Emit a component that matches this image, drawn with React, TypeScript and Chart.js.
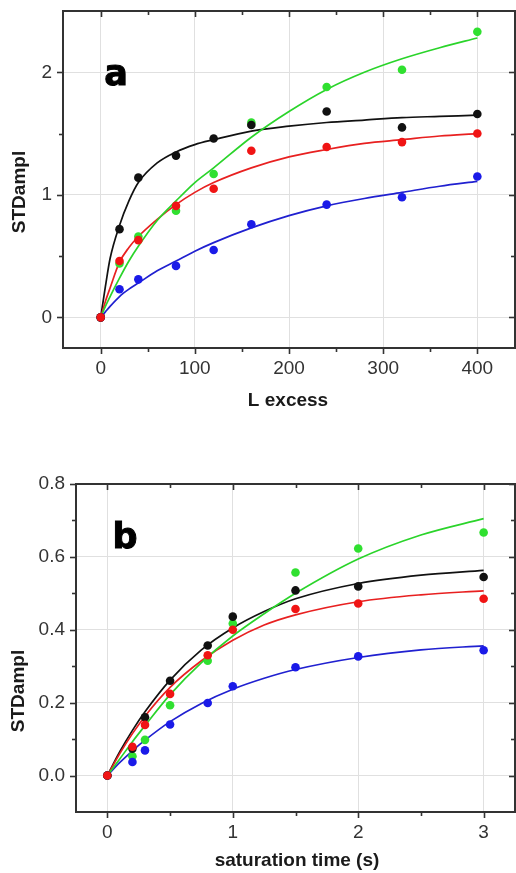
import React, { useEffect, useRef } from "react";
import { Chart, registerables } from "chart.js";
Chart.register(...registerables);

// ---------- Panel a data ----------
const X_A = [0, 20, 40, 80, 120, 160, 240, 320, 400];
const A_BLACK = [0, 0.72, 1.14, 1.32, 1.46, 1.57, 1.68, 1.55, 1.66];
const A_RED = [0, 0.46, 0.63, 0.91, 1.05, 1.36, 1.39, 1.43, 1.5];
const A_GREEN = [0, 0.44, 0.66, 0.87, 1.17, 1.59, 1.88, 2.02, 2.33];
const A_BLUE = [0, 0.23, 0.31, 0.42, 0.55, 0.76, 0.92, 0.98, 1.15];

const X_FIT_A = [0, 5, 10, 20, 30, 40, 60, 80, 100, 120, 160, 200, 240, 280, 320, 360, 400];
const FIT_A_BLACK = [0, 0.25, 0.48, 0.75, 0.95, 1.1, 1.26, 1.35, 1.41, 1.45, 1.52, 1.56, 1.59, 1.61, 1.63, 1.64, 1.65];
const FIT_A_RED = [0, 0.13, 0.24, 0.45, 0.57, 0.66, 0.8, 0.92, 1.02, 1.1, 1.22, 1.31, 1.37, 1.42, 1.45, 1.48, 1.5];
const FIT_A_GREEN = [0, 0.09, 0.17, 0.32, 0.46, 0.58, 0.79, 0.95, 1.1, 1.22, 1.47, 1.68, 1.86, 2.0, 2.11, 2.2, 2.28];
const FIT_A_BLUE = [0, 0.045, 0.09, 0.17, 0.23, 0.28, 0.38, 0.46, 0.54, 0.61, 0.73, 0.83, 0.91, 0.97, 1.02, 1.07, 1.11];

const A_X_TICKS = [0, 100, 200, 300, 400];
const A_X_MINOR = [50, 150, 250, 350];
const A_Y_TICKS = [0, 1, 2];
const A_Y_MINOR = [0.5, 1.5];

// ---------- Panel b data ----------
const X_B = [0, 0.2, 0.3, 0.5, 0.8, 1, 1.5, 2, 3];
const B_BLACK = [0, 0.074, 0.16, 0.26, 0.357, 0.436, 0.508, 0.519, 0.545];
const B_RED = [0, 0.079, 0.139, 0.224, 0.33, 0.4, 0.457, 0.472, 0.485];
const B_GREEN = [0, 0.053, 0.098, 0.193, 0.315, 0.417, 0.557, 0.623, 0.667];
const B_BLUE = [0, 0.037, 0.069, 0.14, 0.199, 0.245, 0.297, 0.327, 0.344];

const X_FIT_B = [0, 0.1, 0.2, 0.3, 0.5, 0.75, 1, 1.25, 1.5, 2, 2.5, 3];
const FIT_B_BLACK = [0, 0.066, 0.124, 0.175, 0.262, 0.345, 0.405, 0.45, 0.485, 0.527, 0.55, 0.563];
const FIT_B_RED = [0, 0.061, 0.115, 0.163, 0.242, 0.315, 0.371, 0.413, 0.441, 0.477, 0.496, 0.507];
const FIT_B_GREEN = [0, 0.046, 0.093, 0.137, 0.222, 0.31, 0.383, 0.444, 0.5, 0.594, 0.66, 0.705];
const FIT_B_BLUE = [0, 0.036, 0.068, 0.097, 0.148, 0.198, 0.237, 0.267, 0.291, 0.324, 0.345, 0.356];

const B_X_TICKS = [0, 1, 2, 3];
const B_X_MINOR = [0.5, 1.5, 2.5];
const B_Y_TICKS = [0, 0.2, 0.4, 0.6, 0.8];
const B_Y_MINOR = [0.1, 0.3, 0.5, 0.7];

const COLORS = {
  black: "#111111",
  red: "#f01414",
  green: "#30e030",
  blue: "#1a1ae8",
};
const LINE_COLORS = {
  black: "#111111",
  red: "#e82020",
  green: "#2ad42a",
  blue: "#2020d0",
};

const FONT = '"Liberation Sans", Arial, sans-serif';

const framePlugin = {
  id: "frame",
  afterDraw(chart: any, _args: any, opts: any) {
    const { ctx, chartArea: a, scales } = chart;
    const xs = scales.x;
    const ys = scales.y;
    ctx.save();
    ctx.strokeStyle = "#333";
    ctx.lineWidth = 1.6;
    const tick = (x1: number, y1: number, x2: number, y2: number) => {
      ctx.beginPath();
      ctx.moveTo(x1, y1);
      ctx.lineTo(x2, y2);
      ctx.stroke();
    };
    const drawXT = (v: number, len: number) => {
      const p = Math.round(xs.getPixelForValue(v)) + 0.5;
      tick(p, a.bottom, p, a.bottom + len);
      tick(p, a.top, p, a.top + len);
    };
    const drawYT = (v: number, len: number) => {
      const p = Math.round(ys.getPixelForValue(v)) + 0.5;
      tick(a.left - len, p, a.left, p);
      tick(a.right - len, p, a.right, p);
    };
    opts.xMajor.forEach((v: number) => drawXT(v, 6));
    opts.xMinor.forEach((v: number) => drawXT(v, 4));
    opts.yMajor.forEach((v: number) => drawYT(v, 6));
    opts.yMinor.forEach((v: number) => drawYT(v, 4));

    ctx.lineWidth = 2;
    ctx.strokeRect(a.left, a.top, a.right - a.left, a.bottom - a.top);

    // axis titles
    ctx.fillStyle = "#1a1a1a";
    ctx.font = `bold 19px ${FONT}`;
    ctx.textAlign = "center";
    ctx.textBaseline = "alphabetic";
    ctx.fillText(opts.xTitle, opts.xTitleX, opts.xTitleY);
    ctx.save();
    ctx.translate(opts.yTitleX, opts.yTitleY);
    ctx.rotate(-Math.PI / 2);
    ctx.textBaseline = "middle";
    ctx.fillText(opts.yTitle, 0, 0);
    ctx.restore();

    // panel letter
    ctx.font = `bold 35px "DejaVu Sans", sans-serif`;
    ctx.fillStyle = "#000";
    ctx.strokeStyle = "#000";
    ctx.lineWidth = 1;
    ctx.textAlign = "center";
    ctx.textBaseline = "alphabetic";
    ctx.fillText(opts.letter, opts.letterX, opts.letterY);
    ctx.strokeText(opts.letter, opts.letterX, opts.letterY);
    ctx.restore();
  },
};

function makeConfig(p: any) {
  const pts = (xs: number[], ys: number[]) => xs.map((x, i) => ({ x, y: ys[i] }));
  const lineDs = (xs: number[], ys: number[], c: string) => ({
    type: "line",
    data: pts(xs, ys),
    borderColor: c,
    borderWidth: 1.7,
    pointRadius: 0,
    fill: false,
    cubicInterpolationMode: "monotone",
    order: 10,
  });
  const ptDs = (xs: number[], ys: number[], c: string, order: number) => ({
    type: "scatter",
    data: pts(xs, ys),
    backgroundColor: c,
    borderWidth: 0,
    pointRadius: 4.3,
    order,
  });
  return {
    type: "scatter",
    data: {
      datasets: [
        lineDs(p.fitX, p.fit.green, LINE_COLORS.green),
        lineDs(p.fitX, p.fit.blue, LINE_COLORS.blue),
        lineDs(p.fitX, p.fit.red, LINE_COLORS.red),
        lineDs(p.fitX, p.fit.black, LINE_COLORS.black),
        ptDs(p.x, p.green, COLORS.green, 4),
        ptDs(p.x, p.blue, COLORS.blue, 3),
        ptDs(p.x, p.black, COLORS.black, 2),
        ptDs(p.x, p.red, COLORS.red, 1),
      ],
    },
    options: {
      animation: false,
      responsive: false,
      devicePixelRatio: 1,
      layout: { autoPadding: false, padding: { top: p.padTop, right: 1, left: 0, bottom: 0 } },
      plugins: {
        legend: { display: false },
        tooltip: { enabled: false },
        frame: p.frame,
      },
      scales: {
        x: {
          type: "linear",
          min: p.xMin,
          max: p.xMax,
          afterBuildTicks: (s: any) => {
            s.ticks = p.xTicks.map((v: number) => ({ value: v }));
          },
          afterFit: (s: any) => {
            s.height = p.xHeight;
          },
          grid: { color: "#e0e0e0", lineWidth: 1, drawTicks: false },
          border: { display: false },
          ticks: {
            padding: 9,
            color: "#333",
            font: { family: FONT, size: 19 },
            callback: p.xFmt,
          },
        },
        y: {
          type: "linear",
          min: p.yMin,
          max: p.yMax,
          afterBuildTicks: (s: any) => {
            s.ticks = p.yTicks.map((v: number) => ({ value: v }));
          },
          afterFit: (s: any) => {
            s.width = p.yWidth;
          },
          grid: { color: "#e0e0e0", lineWidth: 1, drawTicks: false },
          border: { display: false },
          ticks: {
            padding: 11,
            color: "#333",
            font: { family: FONT, size: 19 },
            callback: p.yFmt,
          },
        },
      },
    },
    plugins: [framePlugin],
  };
}

function Panel({ top, height, config }: { top: number; height: number; config: any }) {
  const ref = useRef<HTMLCanvasElement | null>(null);
  useEffect(() => {
    if (!ref.current) return;
    const chart = new Chart(ref.current, config);
    return () => chart.destroy();
  }, []);
  return (
    <canvas
      ref={ref}
      width={516}
      height={height}
      style={{ position: "absolute", left: 0, top, width: 516, height, display: "block" }}
    />
  );
}

// top canvas is placed 30px above the page so that its plot top lands at y=11
const configA = makeConfig({
  x: X_A,
  black: A_BLACK,
  red: A_RED,
  green: A_GREEN,
  blue: A_BLUE,
  fitX: X_FIT_A,
  fit: { black: FIT_A_BLACK, red: FIT_A_RED, green: FIT_A_GREEN, blue: FIT_A_BLUE },
  xMin: -40,
  xMax: 440,
  yMin: -0.25,
  yMax: 2.5,
  xTicks: A_X_TICKS,
  yTicks: A_Y_TICKS,
  xFmt: (v: any) => String(v),
  yFmt: (v: any) => String(v),
  padTop: 41,
  xHeight: 82,
  yWidth: 63,
  frame: {
    xMajor: A_X_TICKS,
    xMinor: A_X_MINOR,
    yMajor: A_Y_TICKS,
    yMinor: A_Y_MINOR,
    xTitle: "L excess",
    xTitleX: 288,
    xTitleY: 436,
    yTitle: "STDampl",
    yTitleX: 20,
    yTitleY: 222,
    letter: "a",
    letterX: 116,
    letterY: 115,
  },
});

const configB = makeConfig({
  x: X_B,
  black: B_BLACK,
  red: B_RED,
  green: B_GREEN,
  blue: B_BLUE,
  fitX: X_FIT_B,
  fit: { black: FIT_B_BLACK, red: FIT_B_RED, green: FIT_B_GREEN, blue: FIT_B_BLUE },
  xMin: -0.25,
  xMax: 3.25,
  yMin: -0.1,
  yMax: 0.8,
  xTicks: B_X_TICKS,
  yTicks: B_Y_TICKS,
  xFmt: (v: any) => String(v),
  yFmt: (v: any) => Number(v).toFixed(1),
  padTop: 44,
  xHeight: 61,
  yWidth: 76,
  frame: {
    xMajor: B_X_TICKS,
    xMinor: B_X_MINOR,
    yMajor: B_Y_TICKS,
    yMinor: B_Y_MINOR,
    xTitle: "saturation time (s)",
    xTitleX: 297,
    xTitleY: 426,
    yTitle: "STDampl",
    yTitleX: 19,
    yTitleY: 251,
    letter: "b",
    letterX: 125,
    letterY: 108,
  },
});

export default function App() {
  useEffect(() => {
    document.body.style.margin = "0";
    document.body.style.background = "#fff";
  }, []);
  return (
    <div style={{ position: "relative", width: 516, height: 873, background: "#fff", overflow: "hidden" }}>
      <Panel top={-30} height={460} config={configA} />
      <Panel top={440} height={433} config={configB} />
    </div>
  );
}
